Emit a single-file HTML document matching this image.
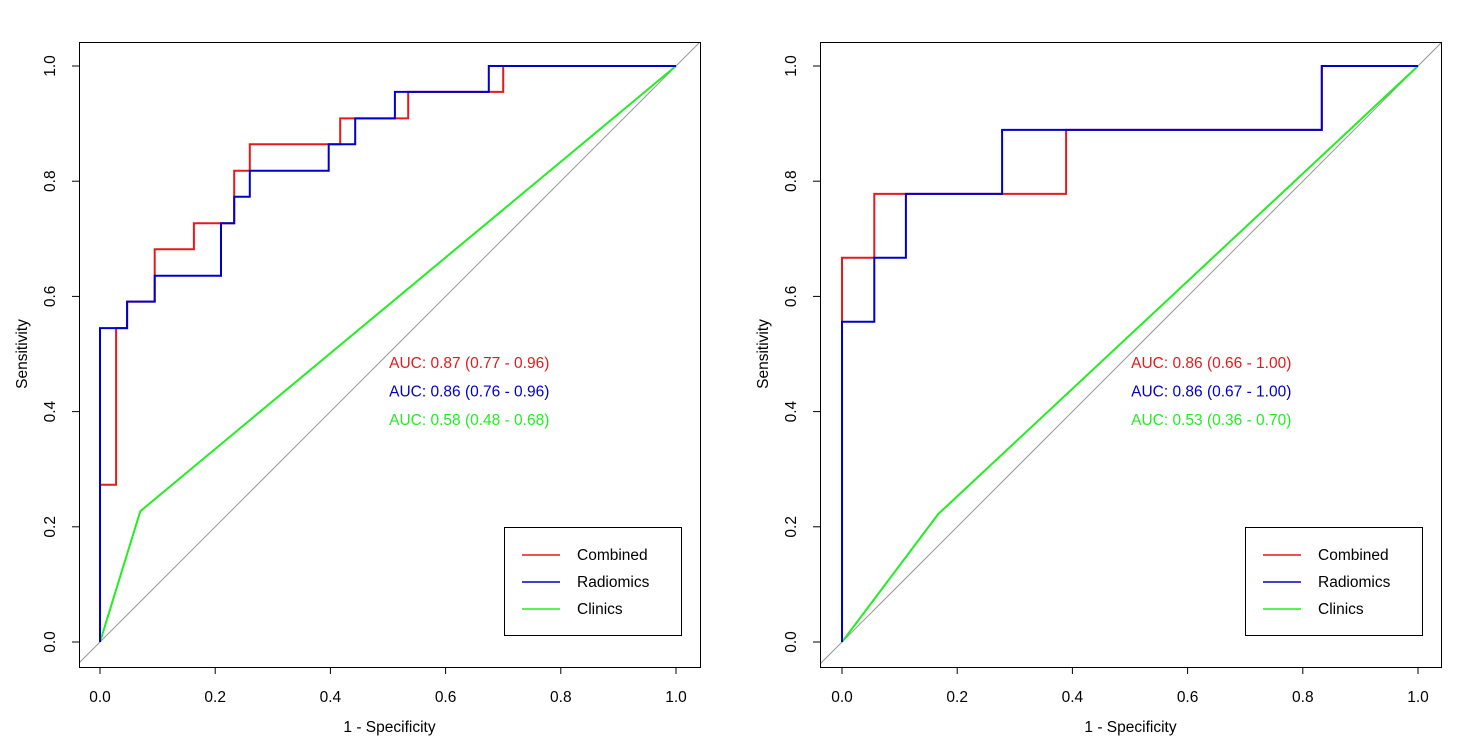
<!DOCTYPE html>
<html><head><meta charset="utf-8">
<style>html,body{margin:0;padding:0;background:#fff}svg{display:block}text{font-family:"Liberation Sans",Arial,sans-serif;font-size:15.5px}</style>
</head><body>
<svg id="chart" width="1482" height="747"></svg>
<script>
const seriesNames = ["Combined","Radiomics","Clinics"];
const seriesColors = ["#e41a1c","#0000cc","#22ee22"];
const ticks = [0,0.2,0.4,0.6,0.8,1.0];
const tickLabels = ["0.0","0.2","0.4","0.6","0.8","1.0"];
// left panel (training) fpr/tpr
const leftCombinedFpr = [0,0,0.028,0.028,0.047,0.047,0.095,0.095,0.163,0.163,0.233,0.233,0.26,0.26,0.417,0.417,0.535,0.535,0.70,0.70,1];
const leftCombinedTpr = [0,0.273,0.273,0.545,0.545,0.591,0.591,0.682,0.682,0.727,0.727,0.818,0.818,0.864,0.864,0.909,0.909,0.955,0.955,1,1];
const leftRadiomicsFpr = [0,0,0.047,0.047,0.095,0.095,0.21,0.21,0.233,0.233,0.26,0.26,0.397,0.397,0.443,0.443,0.512,0.512,0.675,0.675,1];
const leftRadiomicsTpr = [0,0.545,0.545,0.591,0.591,0.636,0.636,0.727,0.727,0.773,0.773,0.818,0.818,0.864,0.864,0.909,0.909,0.955,0.955,1,1];
const leftClinicsFpr = [0,0.07,1];
const leftClinicsTpr = [0,0.227,1];
const leftAuc = ["AUC: 0.87 (0.77 - 0.96)","AUC: 0.86 (0.76 - 0.96)","AUC: 0.58 (0.48 - 0.68)"];
// right panel (validation)
const rightCombinedFpr = [0,0,0.056,0.056,0.389,0.389,0.833,0.833,1];
const rightCombinedTpr = [0,0.667,0.667,0.778,0.778,0.889,0.889,1,1];
const rightRadiomicsFpr = [0,0,0.056,0.056,0.111,0.111,0.278,0.278,0.833,0.833,1];
const rightRadiomicsTpr = [0,0.556,0.556,0.667,0.667,0.778,0.778,0.889,0.889,1,1];
const rightClinicsFpr = [0,0.167,1];
const rightClinicsTpr = [0,0.222,1];
const rightAuc = ["AUC: 0.86 (0.66 - 1.00)","AUC: 0.86 (0.67 - 1.00)","AUC: 0.53 (0.36 - 0.70)"];

const svg = document.getElementById('chart');
const NS = "http://www.w3.org/2000/svg";
function mk(tag, attrs, parent){const e=document.createElementNS(NS,tag);for(const k in attrs)e.setAttribute(k,attrs[k]);(parent||svg).appendChild(e);return e;}

function panel(side, boxL, x0, series, aucs){
  const g = mk('g',{});
  
  
  const boxR = boxL+621, boxT=42, boxB=667;
  const xs = v => x0 + v*576;
  const ys = v => 642 - v*576;
  const clipId='clip-'+side;
  const cp=mk('clipPath',{id:clipId},g); mk('rect',{x:boxL,y:boxT,width:621,height:625},cp);
  const diag = mk('line',{x1:xs(-0.2),y1:ys(-0.2),x2:xs(1.2),y2:ys(1.2),stroke:'#999','stroke-width':1,'clip-path':'url(#'+clipId+')'},g);
  
  
  [2,0,1].forEach(i=>{
    const s=series[i];
    const pts=s[0].map((f,j)=>xs(f).toFixed(1)+','+ys(s[1][j]).toFixed(1)).join(' ');
    const pl=mk('polyline',{points:pts,fill:'none',stroke:seriesColors[i],'stroke-width':2},g);
    
    
  });
  const box=mk('rect',{x:boxL+0.5,y:boxT+0.5,width:621,height:625,fill:'none',stroke:'#000'},g);
  
  
  mk('line',{x1:xs(0),y1:667.5,x2:xs(1),y2:667.5,stroke:'#000'},g);
  mk('line',{x1:boxL+0.5,y1:ys(0),x2:boxL+0.5,y2:ys(1),stroke:'#000'},g);
  ticks.forEach((t,i)=>{
    mk('line',{x1:xs(t),y1:667,x2:xs(t),y2:674,stroke:'#000'},g);
    const tx=mk('text',{x:xs(t),y:702,'text-anchor':'middle'},g); tx.textContent=tickLabels[i];
    
    
    mk('line',{x1:boxL,y1:ys(t),x2:boxL-7,y2:ys(t),stroke:'#000'},g);
    const ty=mk('text',{x:0,y:0,'text-anchor':'middle',transform:`translate(${boxL-24},${ys(t)}) rotate(-90)`},g); ty.textContent=tickLabels[i];
    
    
  });
  const xt=mk('text',{x:(boxL+boxR)/2,y:732,'text-anchor':'middle'},g); xt.textContent='1 - Specificity';
  
  
  const yt=mk('text',{x:0,y:0,'text-anchor':'middle',transform:`translate(${boxL-52},354) rotate(-90)`},g); yt.textContent='Sensitivity';
  
  
  aucs.forEach((a,i)=>{
    const t=mk('text',{x:xs(0.502),y:368+i*28.5,fill:seriesColors[i]},g); t.textContent=a;
    
    
  });
  const lg=mk('g',{},g);
  
  
  const lx=boxL+425;
  mk('rect',{x:lx+0.5,y:527.5,width:177,height:108,fill:'#fff',stroke:'#000'},lg);
  seriesNames.forEach((n,i)=>{
    const y=555+i*27;
    mk('line',{x1:lx+18,y1:y,x2:lx+56,y2:y,stroke:seriesColors[i],'stroke-width':1.5},lg);
    const t=mk('text',{x:lx+73,y:y+5},lg); t.textContent=n;
    
    
  });
}
panel('left',79,100,[[leftCombinedFpr,leftCombinedTpr],[leftRadiomicsFpr,leftRadiomicsTpr],[leftClinicsFpr,leftClinicsTpr]],leftAuc);
panel('right',820,842,[[rightCombinedFpr,rightCombinedTpr],[rightRadiomicsFpr,rightRadiomicsTpr],[rightClinicsFpr,rightClinicsTpr]],rightAuc);
</script>
</body></html>
